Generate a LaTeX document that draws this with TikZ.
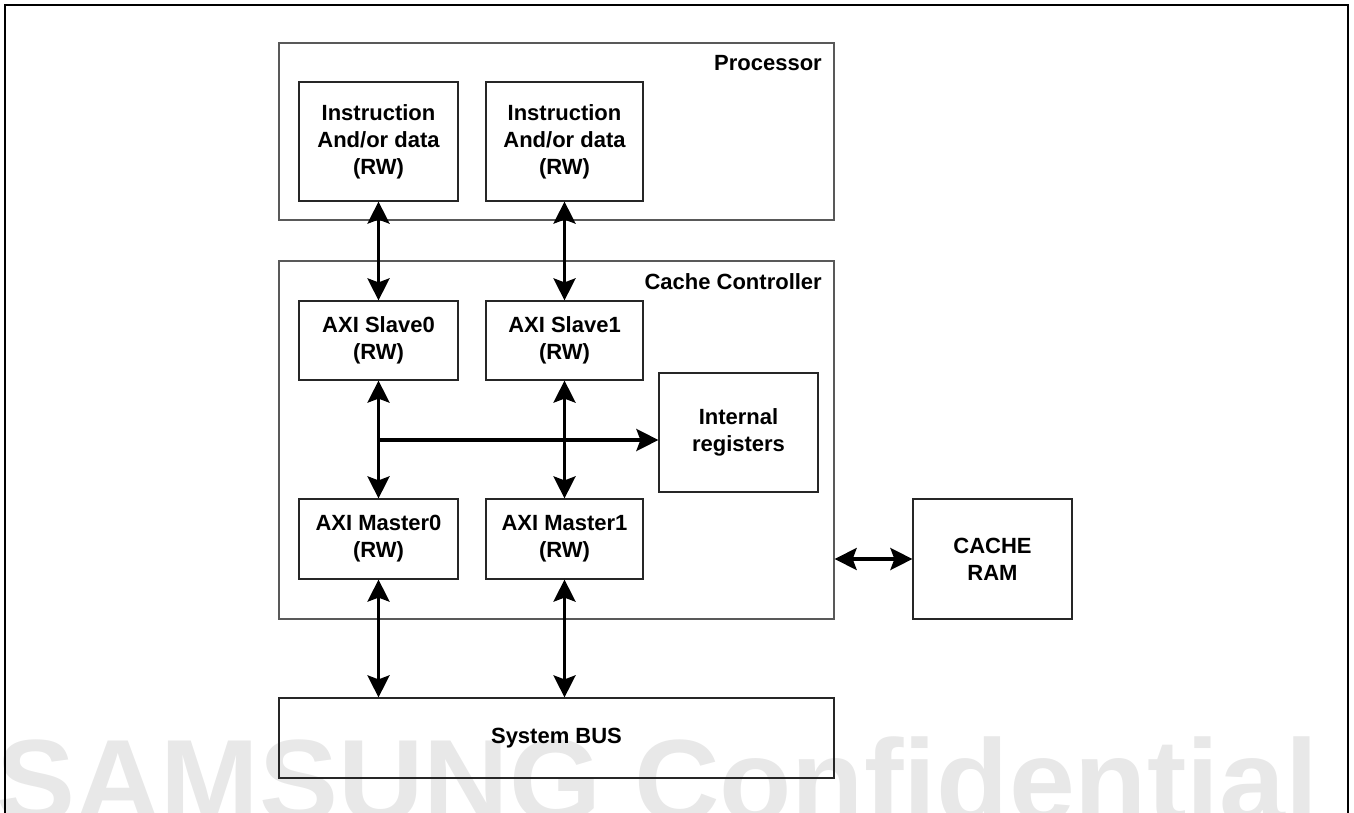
\documentclass[tikz,border=0pt]{standalone}
\usepackage{fontspec}
\setmainfont{Liberation Sans}
\usetikzlibrary{arrows.meta}
\begin{document}
\begin{tikzpicture}[x=1pt,y=-1pt,
  lbl/.style={font=\fontsize{22}{27}\selectfont\bfseries, align=center},
  blk/.style={draw=black!85, line width=1.2pt, rectangle, inner sep=0pt, lbl},
  cont/.style={draw=black!65, line width=1.3pt, rectangle, inner sep=0pt},
  tip/.tip={Stealth[length=22pt,width=22pt,inset=4pt]},
  bi/.style={line width=3.5pt, tip-tip},
  uni/.style={line width=3.5pt, -tip}]
\clip (0,0) rectangle (1354,813);
% watermark
\node[anchor=base west, inner sep=0pt, text=black!9, font=\fontsize{117}{117}\selectfont\bfseries] (wm) at (-4,821) {\scalebox{1.012}[1]{SAMSUNG Confidential}};
% outer frame
\draw[line width=2pt] (4.5,830) -- (4.5,5) -- (1348,5) -- (1348,830);
% containers
\node[cont, minimum width=555pt, minimum height=177pt] (proc) at (556.5,131.5) {};
\node[lbl, anchor=base east, inner sep=0pt] (proct) at (822,71) {Processor};
\node[cont, minimum width=555pt, minimum height=358pt] (cc) at (556.5,440) {};
\node[lbl, anchor=base east, inner sep=0pt] (cct) at (822,289) {Cache Controller};
% blocks
\node[blk, minimum width=159pt, minimum height=119pt] (i0) at (378.5,141.5) {Instruction\\And/or data\\(RW)};
\node[blk, minimum width=157pt, minimum height=119pt] (i1) at (564.5,141.5) {Instruction\\And/or data\\(RW)};
\node[blk, minimum width=159pt, minimum height=79pt] (s0) at (378.5,340.5) {AXI Slave0\\(RW)};
\node[blk, minimum width=157pt, minimum height=79pt] (s1) at (564.5,340.5) {AXI Slave1\\(RW)};
\node[blk, minimum width=159pt, minimum height=119pt] (ireg) at (738.5,432.5) {Internal\\registers};
\node[blk, minimum width=159pt, minimum height=80pt] (m0) at (378.5,539) {AXI Master0\\(RW)};
\node[blk, minimum width=157pt, minimum height=80pt] (m1) at (564.5,539) {AXI Master1\\(RW)};
\node[blk, minimum width=159pt, minimum height=120pt] (ram) at (992.5,559) {CACHE\\RAM};
\node[blk, minimum width=555pt, minimum height=80pt] (bus) at (556.5,738) {System BUS};
% connectors
\draw[bi] (i0.south) -- (s0.north);
\draw[bi] (i1.south) -- (s1.north);
\draw[bi] (s0.south) -- (m0.north);
\draw[bi] (s1.south) -- (m1.north);
\coordinate (j) at (378.5,440);
\draw[uni] (j) -- (j -| ireg.west);
\draw[bi] (m0.south) -- (m0.south |- bus.north);
\draw[bi] (m1.south) -- (m1.south |- bus.north);
\draw[bi] (ram.west -| cc.east) -- (ram.west);
\end{tikzpicture}
\end{document}
